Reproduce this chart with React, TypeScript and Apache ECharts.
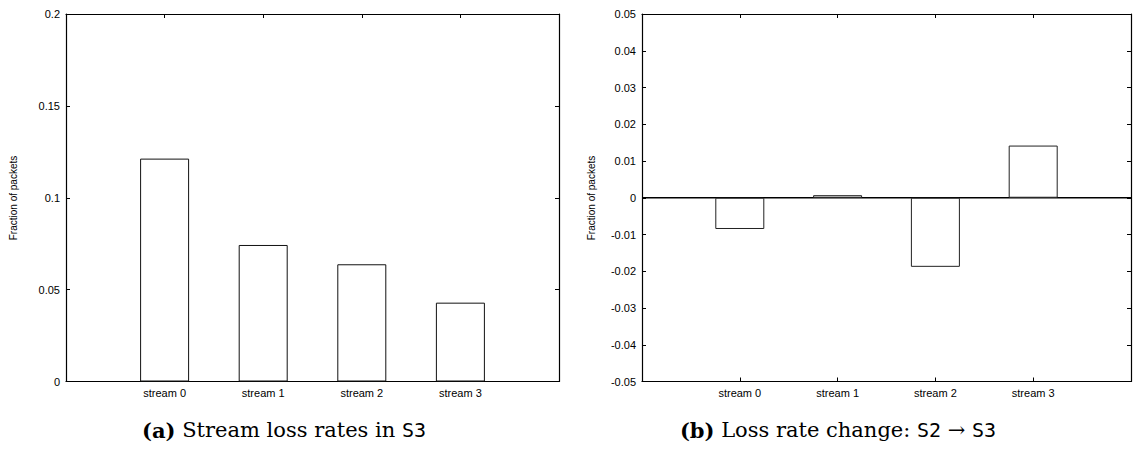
import React, { useEffect, useRef } from "react";
import * as echarts from "echarts";

const categories = ["stream 0", "stream 1", "stream 2", "stream 3"];
const lossRatesS3 = [0.1213, 0.0743, 0.0638, 0.0429];
const lossRateChange = [-0.0085, 0.0007, -0.0188, 0.0142];
const leftTicksY = { min: 0, max: 0.2, interval: 0.05 };
const rightTicksY = { min: -0.05, max: 0.05, interval: 0.01 };
const xRange = { min: -1, max: 4 };
const yTitle = "Fraction of packets";
const captionA = { label: "(a)", text: " Stream loss rates in ", code: "S3" };
const captionB = { label: "(b)", text: " Loss rate change: ", code1: "S2", arrow: " \u2192 ", code2: "S3" };

const SANS = "'Liberation Sans', Arial, sans-serif";
const SERIF = "'DejaVu Serif', 'Liberation Serif', serif";
const MONO = "'DejaVu Sans Mono', 'Liberation Mono', monospace";

export default function App() {
  const ref = useRef<HTMLDivElement>(null);
  useEffect(() => {
    if (!ref.current) return;
    const chart = echarts.init(ref.current, null, { renderer: "svg" });
    const axisLine = { show: true, lineStyle: { color: "#000", width: 1.2 } };
    const xAxisBase = (gridIndex: number, position: "bottom" | "top", labels: boolean) => ({
      type: "value",
      gridIndex,
      position,
      min: xRange.min,
      max: xRange.max,
      interval: 1,
      axisLine: { ...axisLine, onZero: false },
      axisTick: { show: true, inside: true, length: 4, lineStyle: { color: "#000", width: 1 } },
      splitLine: { show: false },
      axisLabel: {
        show: labels,
        color: "#000",
        fontFamily: SANS,
        fontSize: 11,
        margin: 6,
        formatter: (v: number) => (categories[v] !== undefined ? categories[v] : ""),
      },
    });
    const yAxisBase = (gridIndex: number, position: "left" | "right", labels: boolean, r: any) => ({
      type: "value",
      gridIndex,
      position,
      min: r.min,
      max: r.max,
      interval: r.interval,
      axisLine: { ...axisLine, onZero: false },
      axisTick: { show: true, inside: true, length: 4, lineStyle: { color: "#000", width: 1 } },
      splitLine: { show: false },
      axisLabel: { show: labels, color: "#000", fontFamily: SANS, fontSize: 11, margin: 6 },
    });
    const barStyle = { color: "#fff", borderColor: "#111", borderWidth: 1 };
    const captionRich = {
      b: { fontFamily: SERIF, fontSize: 21, fontWeight: "bold", fill: "#000" },
      m: { fontFamily: MONO, fontSize: 20, fill: "#000" },
    };
    chart.setOption({
      animation: false,
      backgroundColor: "#fff",
      grid: [
        { left: 66, top: 14, width: 493, height: 367.5 },
        { left: 642, top: 14, width: 493, height: 367.5 },
      ],
      xAxis: [
        xAxisBase(0, "bottom", true),
        xAxisBase(0, "top", false),
        xAxisBase(1, "bottom", true),
        xAxisBase(1, "top", false),
      ],
      yAxis: [
        yAxisBase(0, "left", true, leftTicksY),
        yAxisBase(0, "right", false, leftTicksY),
        yAxisBase(1, "left", true, rightTicksY),
        yAxisBase(1, "right", false, rightTicksY),
      ],
      series: [
        {
          type: "bar",
          xAxisIndex: 0,
          yAxisIndex: 0,
          barWidth: 49,
          z: 3,
          itemStyle: barStyle,
          data: lossRatesS3.map((v, i) => [i, v]),
        },
        {
          type: "line",
          xAxisIndex: 2,
          yAxisIndex: 2,
          z: 1,
          symbol: "none",
          lineStyle: { color: "#000", width: 1.6 },
          data: [
            [xRange.min, 0],
            [xRange.max, 0],
          ],
        },
        {
          type: "bar",
          xAxisIndex: 2,
          yAxisIndex: 2,
          barWidth: 49,
          z: 3,
          itemStyle: { ...barStyle, borderColor: "#222" },
          data: lossRateChange.map((v, i) => [i, v]),
        },
      ],
      graphic: [
        {
          type: "text",
          x: 13,
          y: 198,
          rotation: Math.PI / 2,
          style: { text: yTitle, fontFamily: SANS, fontSize: 10, fill: "#000", align: "center", verticalAlign: "middle" },
        },
        {
          type: "text",
          x: 591,
          y: 198,
          rotation: Math.PI / 2,
          style: { text: yTitle, fontFamily: SANS, fontSize: 10, fill: "#000", align: "center", verticalAlign: "middle" },
        },
        {
          type: "text",
          x: 284,
          y: 430,
          style: {
            text: `{b|${captionA.label}}${captionA.text}{m|${captionA.code}}`,
            fontFamily: SERIF,
            fontSize: 21,
            fill: "#000",
            align: "center",
            verticalAlign: "middle",
            rich: captionRich,
          },
        },
        {
          type: "text",
          x: 838,
          y: 430,
          style: {
            text: `{b|${captionB.label}}${captionB.text}{m|${captionB.code1}}${captionB.arrow}{m|${captionB.code2}}`,
            fontFamily: SERIF,
            fontSize: 21,
            fill: "#000",
            align: "center",
            verticalAlign: "middle",
            rich: captionRich,
          },
        },
      ],
    });
    return () => chart.dispose();
  }, []);
  return (
    <div
      ref={ref}
      style={{ position: "absolute", left: 0, top: 0, width: 1134, height: 449, background: "#fff" }}
    />
  );
}
